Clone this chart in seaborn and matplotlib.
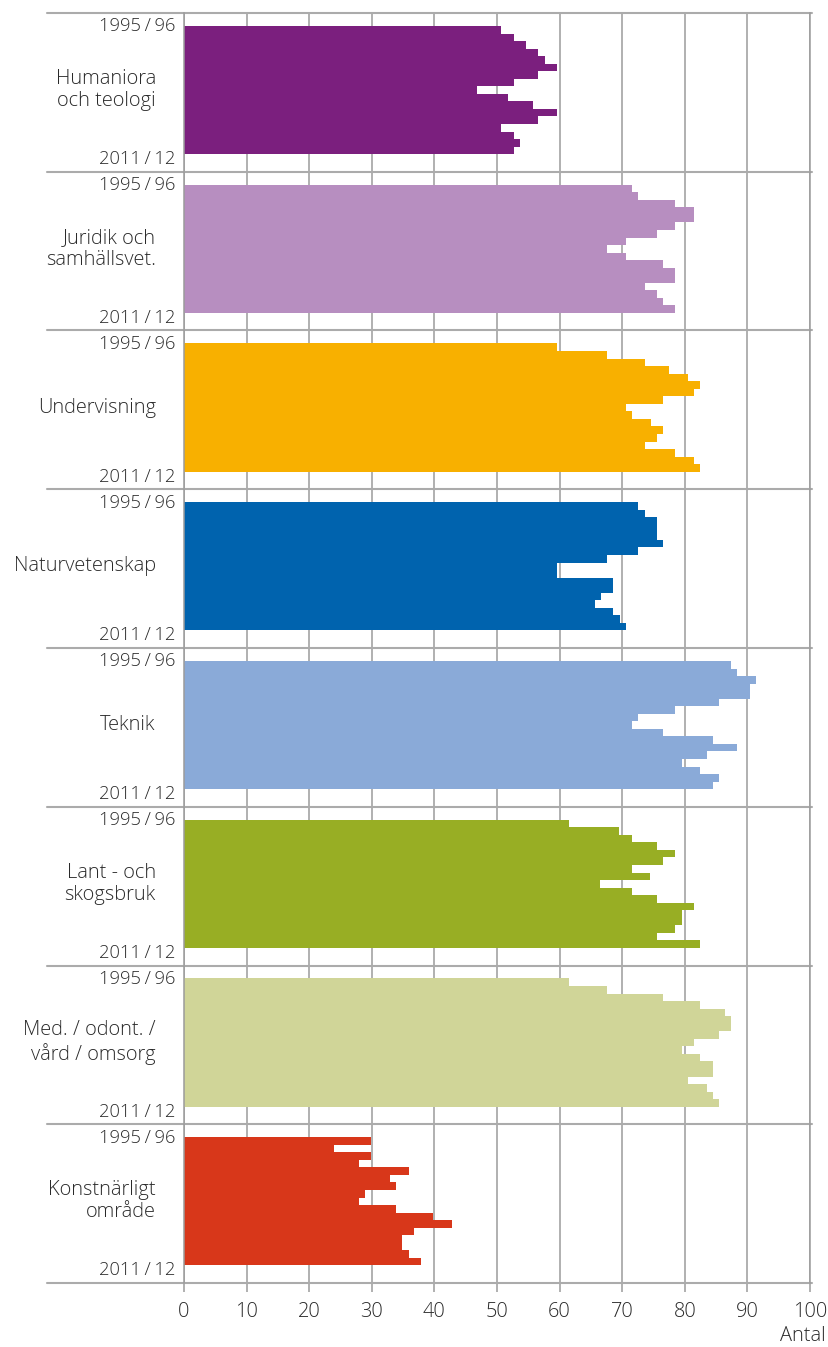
import matplotlib
matplotlib.use("Agg")
import matplotlib.pyplot as plt
import seaborn as sns
import pandas as pd

# år (läsår) och antal per ämnesområde
years = ['1995/96', '1996/97', '1997/98', '1998/99', '1999/00', '2000/01',
         '2001/02', '2002/03', '2003/04', '2004/05', '2005/06', '2006/07',
         '2007/08', '2008/09', '2009/10', '2010/11', '2011/12']

areas = ['Humaniora\noch teologi', 'Juridik och\nsamhällsvet.', 'Undervisning',
         'Naturvetenskap', 'Teknik', 'Lant - och\nskogsbruk',
         'Med. / odont. /\nvård / omsorg', 'Konstnärligt\nområde']

humaniora = [50.7, 52.7, 54.7, 56.6, 57.6, 59.6, 56.6, 52.7, 46.8, 51.7, 55.7, 59.6, 56.6, 50.7, 52.7, 53.7, 52.7]
juridik = [71.5, 72.6, 78.5, 81.5, 81.5, 78.5, 75.5, 70.6, 67.6, 70.6, 76.5, 78.5, 78.5, 73.6, 75.5, 76.5, 78.5]
undervisning = [59.6, 67.6, 73.6, 77.5, 80.5, 82.5, 81.5, 76.5, 70.6, 71.5, 74.6, 76.5, 75.5, 73.6, 78.5, 81.5, 82.5]
naturvet = [72.6, 73.6, 75.5, 75.5, 75.5, 76.5, 72.6, 67.6, 59.6, 59.6, 68.6, 68.6, 66.6, 65.6, 68.6, 69.6, 70.6]
teknik = [87.4, 88.4, 91.4, 90.4, 90.4, 85.4, 78.5, 72.5, 71.5, 76.5, 84.5, 88.4, 83.5, 79.5, 82.5, 85.4, 84.5]
lant = [61.5, 69.5, 71.5, 75.5, 78.5, 76.5, 71.5, 74.5, 66.5, 71.5, 75.5, 81.5, 79.5, 79.5, 78.5, 75.5, 82.5]
med = [61.5, 67.6, 76.5, 82.4, 86.4, 87.4, 87.4, 85.4, 81.5, 79.5, 82.4, 84.5, 84.5, 80.5, 83.5, 84.5, 85.4]
konst = [29.8, 23.9, 29.8, 27.9, 35.9, 32.9, 33.9, 28.9, 27.9, 33.9, 39.8, 42.8, 36.8, 34.8, 34.8, 35.9, 37.8]

colors = ['#7B1F7E', '#B78EC0', '#F8B000', '#0063AE',
          '#8AAAD8', '#98AE24', '#D0D598', '#D8371A']

series = [humaniora, juridik, undervisning, naturvet, teknik, lant, med, konst]

df = pd.concat([
    pd.DataFrame({'area': a, 'year': years, 'value': v})
    for a, v in zip(areas, series)
], ignore_index=True)

sns.set_style('white')
plt.rcParams['font.family'] = ['Open Sans', 'DejaVu Sans']
plt.rcParams['font.weight'] = 'light'

GRID = '#9b9b9b'
SEP = '#ababab'
TXT = '#2a2a2a'
FS = 14.4
FS_YEAR = 13.2


def year_label(y):
    # thin spaces round the slash, as in the original
    return y.replace('/', '\u2009/\u2009')


fig, axes = plt.subplots(8, 1, figsize=(8.29, 13.47), dpi=100, sharex=True)
fig.subplots_adjust(left=184 / 829, right=810 / 829, top=1 - 13 / 1347,
                    bottom=1 - 1283 / 1347, hspace=0)

for i, (ax, area, color) in enumerate(zip(axes, areas, colors)):
    sub = df[df['area'] == area]
    sns.barplot(data=sub, x='value', y='year', orient='h', color=color,
                saturation=1, width=1, linewidth=0, ax=ax)
    ax.set_xlim(0, 100)
    ax.set_ylim(18.83, -2.22)
    ax.set_xticks(range(0, 101, 10))
    ax.set_yticks([])
    ax.set_xlabel('')
    ax.set_ylabel('')
    ax.set_axisbelow(True)
    ax.grid(axis='x', color=GRID, linewidth=1.1)
    ax.grid(axis='y', visible=False)
    for s in ['top', 'bottom']:
        ax.spines[s].set_visible(False)
    for s in ['left', 'right']:
        ax.spines[s].set_visible(True)
        ax.spines[s].set_color(GRID)
        ax.spines[s].set_linewidth(1.1)

    # separator line reaching into label column
    ax.plot([-0.219, 1.003], [1, 1], transform=ax.transAxes, color=SEP,
            linewidth=1.5, clip_on=False)

    ax.text(-1.3, -0.45, year_label(years[0]), ha='right', va='center',
            fontsize=FS_YEAR, color=TXT)
    ax.text(-1.3, 17.15, year_label(years[-1]), ha='right', va='center',
            fontsize=FS_YEAR, color=TXT)
    ax.text(-4.5, 8.0, area, ha='right', va='center', multialignment='right',
            fontsize=FS, color=TXT, linespacing=1.15)

    if i < 7:
        ax.tick_params(axis='x', length=0, labelbottom=False)

last = axes[-1]
last.plot([-0.219, 1.003], [0, 0], transform=last.transAxes, color=SEP,
          linewidth=1.5, clip_on=False)
last.tick_params(axis='x', length=6.5, width=1.1, color=GRID, labelsize=FS,
                 labelcolor=TXT, pad=7, bottom=True)

fig.text(826 / 829, 1 - 1336 / 1347, 'Antal', ha='right', va='center',
         fontsize=FS, color=TXT)

plt.savefig('out.png', dpi=100)
plt.close()
